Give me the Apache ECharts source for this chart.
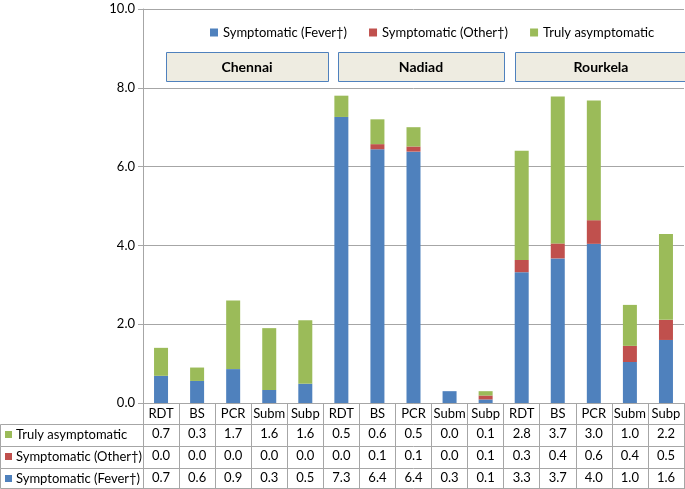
<!DOCTYPE html>
<html><head><meta charset="utf-8">
<script src="https://cdn.jsdelivr.net/npm/echarts@6/dist/echarts.min.js"></script>
<style>html,body{margin:0;padding:0;background:#fff}#c{width:685px;height:489px}</style>
</head><body><div id="c"></div>
<script>
const categories = ['RDT','BS','PCR','Subm','Subp','RDT','BS','PCR','Subm','Subp','RDT','BS','PCR','Subm','Subp'];
const cities = ['Chennai','Nadiad','Rourkela'];
const seriesNames = ['Symptomatic (Fever\u2020)','Symptomatic (Other\u2020)','Truly asymptomatic'];
const fever = [0.69,0.56,0.86,0.33,0.49,7.26,6.44,6.38,0.30,0.09,3.32,3.67,4.04,1.04,1.60];
const other = [0,0,0,0,0,0,0.13,0.13,0,0.10,0.31,0.38,0.60,0.41,0.51];
const asym  = [0.71,0.34,1.74,1.57,1.61,0.54,0.63,0.49,0,0.11,2.77,3.73,3.04,1.04,2.18];
const yTicks = [0,2,4,6,8,10];

const FONT = 'Lato';
const colors = ['#4f81bd','#c0504d','#9bbb59'];
const gridC = '#a6a6a6';
const chart = echarts.init(document.getElementById('c'), null, {renderer:'canvas'});

const rows = [asym, other, fever];
const rowNames = [seriesNames[2], seriesNames[1], seriesNames[0]];
const rowColors = [colors[2], colors[1], colors[0]];
const rowTops = [21, 43, 65];
const rowH = [22, 22, 20];
const xAxes = [{
  type:'category', data:categories, position:'bottom', gridIndex:0,
  axisLine:{show:true, lineStyle:{color:gridC}},
  axisTick:{show:true, interval:0, length:86, lineStyle:{color:gridC}},
  axisLabel:{interval:0, margin:4, fontSize:13, color:'#000', fontFamily:FONT},
  splitLine:{show:false}
}];
rows.forEach((arr, r) => {
  xAxes.push({
    type:'category', data:categories, position:'bottom', gridIndex:0, offset:rowTops[r],
    axisLine:{show:true, lineStyle:{color:gridC}},
    axisTick:{show:false},
    axisLabel:{interval:0, margin:3, fontSize:13, color:'#000', fontFamily:FONT,
      formatter:(v,i)=>arr[i].toFixed(1)},
    splitLine:{show:false}
  });
});
xAxes.push({
  type:'category', data:categories, position:'bottom', gridIndex:0, offset:85,
  axisLine:{show:true, lineStyle:{color:gridC}}, axisTick:{show:false}, axisLabel:{show:false}
});

const graphics = [];
rows.forEach((arr, r) => {
  const y0 = 403 + rowTops[r];
  graphics.push({type:'rect', shape:{x:0.5, y:y0+0.5, width:143, height:rowH[r]},
    style:{fill:'none', stroke:gridC, lineWidth:1}, silent:true});
  graphics.push({type:'rect', shape:{x:5, y:y0+7, width:7, height:7},
    style:{fill:rowColors[r]}, silent:true});
  graphics.push({type:'text', x:16, y:y0+11,
    style:{text:rowNames[r], fontSize:13, fontFamily:FONT, fill:'#000', verticalAlign:'middle', align:'left'}, silent:true});
});
const boxes = [[166,162],[338,166],[515,172]];
cities.forEach((c,i) => {
  graphics.push({type:'rect', shape:{x:boxes[i][0]+0.5, y:52.5, width:boxes[i][1], height:29},
    style:{fill:'#eeece1', stroke:'#4f81bd', lineWidth:1}, silent:true, z:10});
  graphics.push({type:'text', x:boxes[i][0]+boxes[i][1]/2, y:67,
    style:{text:c, fontSize:14, fontWeight:'bold', fontFamily:FONT, fill:'#000', align:'center', verticalAlign:'middle'}, silent:true, z:11});
});

const mk = (name, data, color) => ({
  name, type:'bar', stack:'total', data, barWidth:14, xAxisIndex:0,
  itemStyle:{color}, emphasis:{disabled:true}
});

chart.setOption({
  animation:false,
  textStyle:{fontFamily:FONT},
  legend:{data:seriesNames, top:21, left:205, icon:'rect', itemWidth:8, itemHeight:8, itemGap:22,
    textStyle:{fontSize:13, color:'#000', fontFamily:FONT}},
  grid:{left:143, right:1, top:9, bottom:86, containLabel:false},
  xAxis:xAxes,
  yAxis:{type:'value', min:yTicks[0], max:yTicks[yTicks.length-1], interval:2,
    axisLine:{show:true, lineStyle:{color:gridC}},
    axisTick:{show:true, length:5, lineStyle:{color:gridC}},
    axisLabel:{margin:8, fontSize:13, color:'#000', fontFamily:FONT, formatter:v=>v.toFixed(1)},
    splitLine:{show:true, lineStyle:{color:gridC, width:1}}},
  series:[mk(seriesNames[0], fever, colors[0]), mk(seriesNames[1], other, colors[1]), mk(seriesNames[2], asym, colors[2])],
  graphic:graphics
});
</script></body></html>
